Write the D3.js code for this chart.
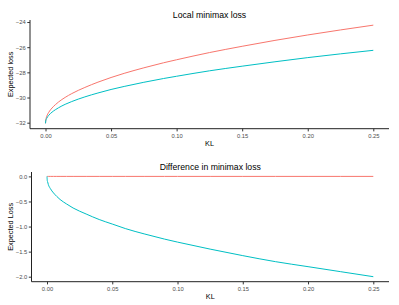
<!DOCTYPE html>
<html>
<head>
<meta charset="utf-8">
<script src="https://cdnjs.cloudflare.com/ajax/libs/d3/7.8.5/d3.min.js"></script>
<style>
  body { margin: 0; background: #fff; }
  svg { display: block; font-family: "Liberation Sans", Arial, sans-serif; }
  .tick text { fill: #4d4d4d; font-size: 5.8px; }
  .tick line { stroke: #333; }
  .domain { stroke: #222; }
</style>
</head>
<body>
<div id="chart"></div>
<script>
// Data
var kl = [0, 0.0002, 0.0005, 0.001, 0.0025, 0.005, 0.0075, 0.01, 0.015, 0.02, 0.03,
  0.04, 0.05, 0.06, 0.075, 0.09, 0.1, 0.125, 0.15, 0.175, 0.2, 0.225, 0.25];

// top panel: local minimax loss
var lossRed = [-32.05, -31.78, -31.64, -31.48, -31.17, -30.83, -30.57, -30.35, -29.99, -29.69, -29.20,
  -28.78, -28.41, -28.08, -27.64, -27.24, -27.00, -26.43, -25.93, -25.46, -25.03, -24.63, -24.25];
var lossTeal = [-32.05, -31.86, -31.75, -31.64, -31.41, -31.16, -30.97, -30.81, -30.54, -30.32, -29.95,
  -29.64, -29.36, -29.12, -28.79, -28.49, -28.31, -27.88, -27.51, -27.16, -26.83, -26.53, -26.25];

// bottom panel: difference in minimax loss
var diffRed = [0, 0, 0, 0, 0, 0, 0, 0, 0, 0, 0,
  0, 0, 0, 0, 0, 0, 0, 0, 0, 0, 0, 0];
var diffTeal = [0, -0.08, -0.11, -0.16, -0.24, -0.33, -0.40, -0.46, -0.55, -0.63, -0.75,
  -0.86, -0.95, -1.04, -1.15, -1.25, -1.31, -1.45, -1.58, -1.70, -1.80, -1.90, -2.00];

var xTicks = [0, 0.05, 0.10, 0.15, 0.20, 0.25];
var lossTicks = [-32, -30, -28, -26, -24];
var diffTicks = [-2.0, -1.5, -1.0, -0.5, 0.0];

var svgWidth = 399;
var svgHeight = 305;

var svg = d3.select("#chart").append("svg")
  .attr("width", svgWidth)
  .attr("height", svgHeight);

function drawPanel(opt) {
  var g = svg.append("g");

  var xScale = d3.scaleLinear()
    .domain([0, 0.25])
    .range([opt.left + 15.5, opt.right - 15.7]);

  var yScale = d3.scaleLinear()
    .domain(opt.yDomain)
    .range(opt.yRange);

  var xAxis = d3.axisBottom(xScale)
    .tickValues(xTicks)
    .tickFormat(d3.format(".2f"))
    .tickSize(2.7)
    .tickPadding(2.6)
    .tickSizeOuter(0);

  var yAxis = d3.axisLeft(yScale)
    .tickValues(opt.yTicks)
    .tickFormat(opt.yFormat)
    .tickSize(2.7)
    .tickPadding(1.6)
    .tickSizeOuter(0);

  // lines
  var line = d3.line()
    .x(function(d, i) { return xScale(kl[i]); })
    .y(function(d) { return yScale(d); })
    .curve(d3.curveMonotoneX);

  opt.series.forEach(function(s) {
    g.append("path")
      .attr("d", line(s.values))
      .attr("fill", "none")
      .attr("stroke", s.color)
      .attr("stroke-width", 1);
  });

  // axes
  var gx = g.append("g")
    .attr("transform", `translate(0, ${opt.bottom})`)
    .call(xAxis);
  gx.select(".domain").attr("d", `M${opt.left},0H${opt.right}`);

  var gy = g.append("g")
    .attr("transform", `translate(${opt.left}, 0)`)
    .call(yAxis);
  gy.select(".domain").attr("d", `M0,${opt.top}V${opt.bottom}`);

  // title
  g.append("text")
    .attr("x", (opt.left + opt.right) / 2)
    .attr("y", opt.top - 2)
    .attr("text-anchor", "middle")
    .attr("font-size", "8.7px")
    .attr("fill", "#000")
    .text(opt.title);

  // x label
  g.append("text")
    .attr("x", (opt.left + opt.right) / 2)
    .attr("y", opt.bottom + 17.3)
    .attr("text-anchor", "middle")
    .attr("font-size", "7.3px")
    .attr("fill", "#000")
    .text("KL");

  // y label
  g.append("text")
    .attr("transform", `translate(12.6, ${(opt.top + opt.bottom) / 2}) rotate(-90)`)
    .attr("text-anchor", "middle")
    .attr("font-size", "7.3px")
    .attr("fill", "#000")
    .text(opt.yLabel);
}

drawPanel({
  left: 30, right: 389, top: 20, bottom: 128.7,
  yDomain: [-32, -24], yRange: [122.7, 22],
  yTicks: lossTicks, yFormat: d3.format("d"),
  title: "Local minimax loss", yLabel: "Expected loss",
  series: [{ values: lossRed, color: "#F8766D" }, { values: lossTeal, color: "#00BFC4" }]
});

drawPanel({
  left: 31.5, right: 389, top: 172, bottom: 281.7,
  yDomain: [-2, 0], yRange: [276.7, 176.4],
  yTicks: diffTicks, yFormat: d3.format(".1f"),
  title: "Difference in minimax loss", yLabel: "Expected Loss",
  series: [{ values: diffRed, color: "#F8766D" }, { values: diffTeal, color: "#00BFC4" }]
});
</script>
</body>
</html>
